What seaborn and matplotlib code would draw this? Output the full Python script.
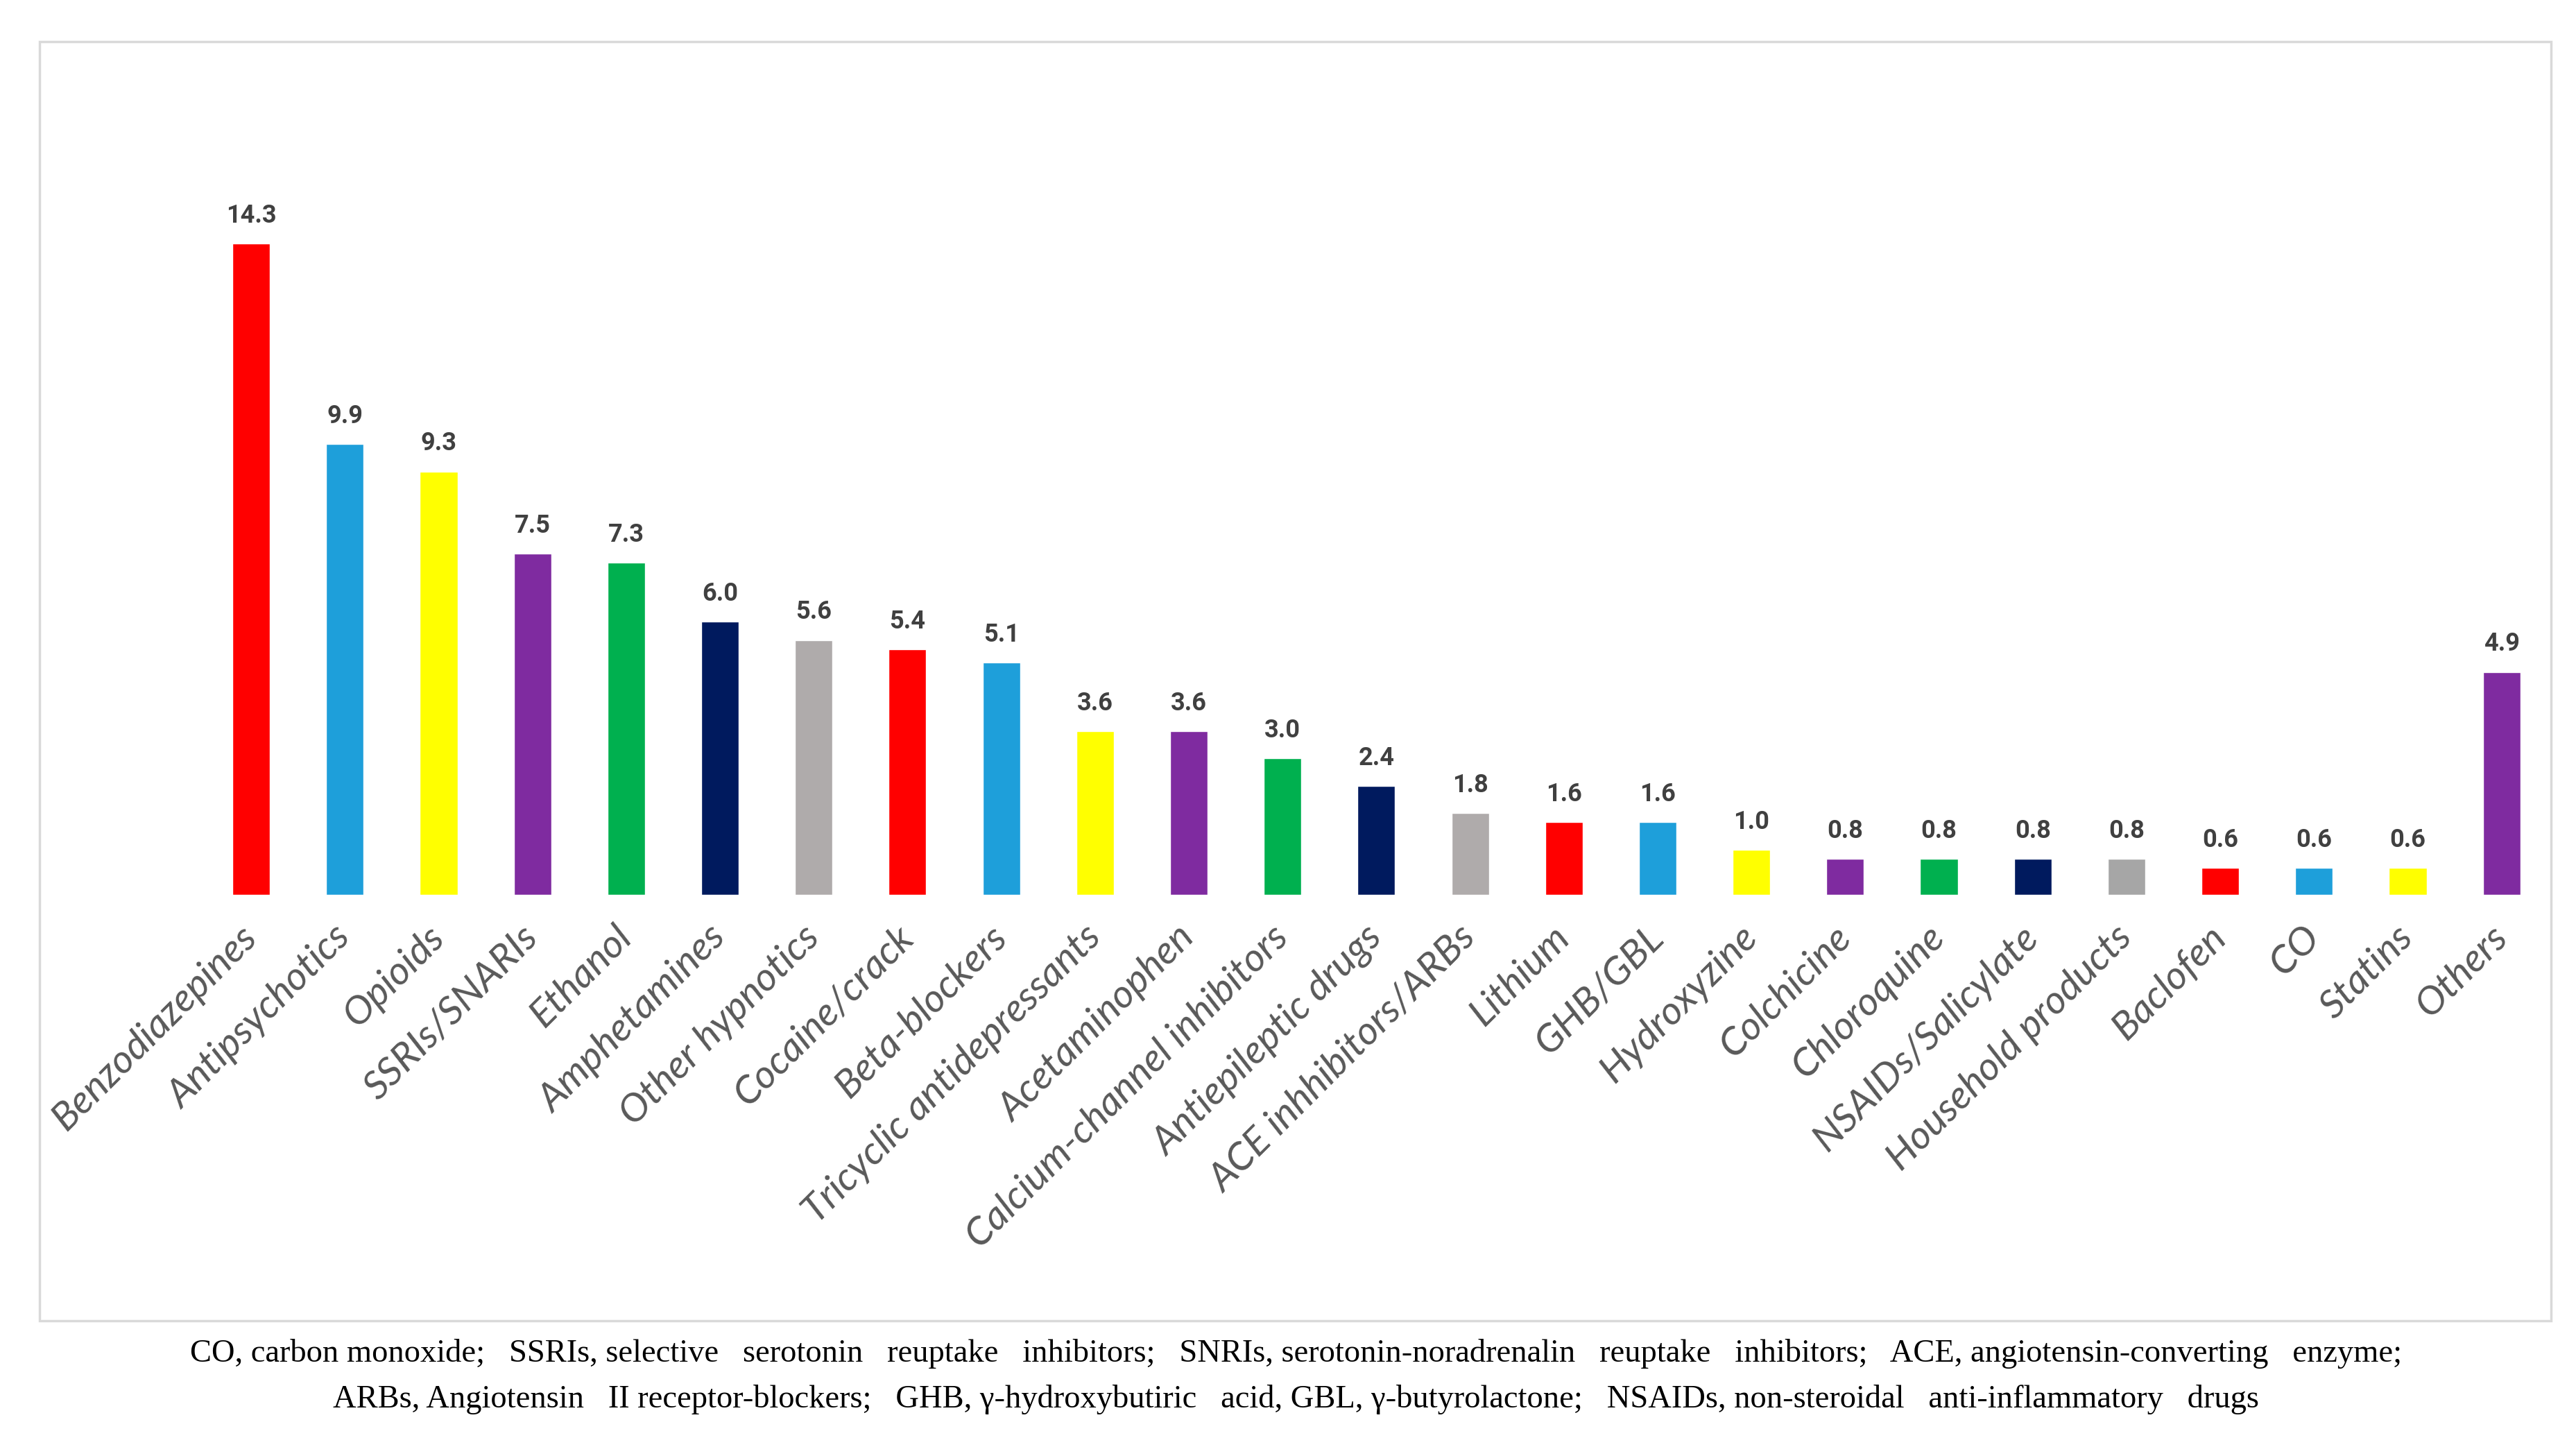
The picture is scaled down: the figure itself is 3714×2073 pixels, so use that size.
import matplotlib
matplotlib.use("Agg")
import matplotlib.pyplot as plt
import seaborn as sns
import pandas as pd
from matplotlib.patches import Rectangle

# data
categories = ["Benzodiazepines", "Antipsychotics", "Opioids", "SSRIs/SNARIs", "Ethanol",
              "Amphetamines", "Other hypnotics", "Cocaine/crack", "Beta-blockers",
              "Tricyclic antidepressants", "Acetaminophen", "Calcium-channel inhibitors",
              "Antiepileptic drugs", "ACE inhhibitors/ARBs", "Lithium", "GHB/GBL",
              "Hydroxyzine", "Colchicine", "Chloroquine", "NSAIDs/Salicylate",
              "Household products", "Baclofen", "CO", "Statins", "Others"]
values = [14.3, 9.9, 9.3, 7.5, 7.3, 6.0, 5.6, 5.4, 5.1, 3.6, 3.6, 3.0, 2.4, 1.8,
          1.6, 1.6, 1.0, 0.8, 0.8, 0.8, 0.8, 0.6, 0.6, 0.6, 4.9]
bar_colors = ["#FF0000", "#1E9FDA", "#FFFF00", "#7F2BA0", "#00B04F", "#001A5E", "#AFABAB",
              "#FF0000", "#1E9FDA", "#FFFF00", "#7F2BA0", "#00B04F", "#001A5E", "#AFABAB",
              "#FF0000", "#1E9FDA", "#FFFF00", "#7F2BA0", "#00B04F", "#001A5E", "#A6A6A6",
              "#FF0000", "#1E9FDA", "#FFFF00", "#7F2BA0"]

footnote_1 = ("CO, carbon monoxide;   SSRIs, selective   serotonin   reuptake   inhibitors;   "
              "SNRIs, serotonin-noradrenalin   reuptake   inhibitors;   ACE, angiotensin-converting   enzyme;")
footnote_2 = ("ARBs, Angiotensin   II receptor-blockers;   GHB, \u03b3-hydroxybutiric   acid, "
              "GBL, \u03b3-butyrolactone;   NSAIDs, non-steroidal   anti-inflammatory   drugs")

df = pd.DataFrame({"category": categories, "value": values})

sns.set_style("white")
plt.rcParams['font.family'] = ['Lato', 'DejaVu Sans']

fig = plt.figure(figsize=(37.14, 20.73), dpi=100)
ax = fig.add_axes([0.0793, 0.3775, 0.910, 0.507])

sns.barplot(data=df, x="category", y="value", hue="category", palette=bar_colors,
            width=0.4, legend=False, saturation=1, ax=ax)

ax.set_ylim(0, 16)
ax.set_xlim(-0.5, len(categories) - 0.5)
ax.set_xlabel("")
ax.set_ylabel("")
ax.set_yticks([])
sns.despine(ax=ax, left=True, bottom=True)

for c in ax.containers:
    ax.bar_label(c, fmt="%.1f", padding=16, fontsize=26, fontweight="bold",
                 color="#404040", family="Roboto")

ax.set_xticks(range(len(categories)))
ax.set_xticklabels(categories, rotation=45, ha="right", va="center", rotation_mode="anchor",
                   fontsize=41, style="italic", color="#595959")
ax.tick_params(axis="x", length=0, pad=38)

# light grey frame round the chart area
fig.patches.append(Rectangle((0.0153, 0.0815), 0.975, 0.8895, transform=fig.transFigure,
                             fill=False, edgecolor="#D9D9D9", linewidth=2.5))

fig.text(0.503, 0.0585, footnote_1, ha="center", va="center", fontsize=33.5,
         family="Liberation Serif", color="black")
fig.text(0.503, 0.027, footnote_2, ha="center", va="center", fontsize=33.5,
         family="Liberation Serif", color="black")

fig.savefig("out.png", dpi=100, facecolor="white")
